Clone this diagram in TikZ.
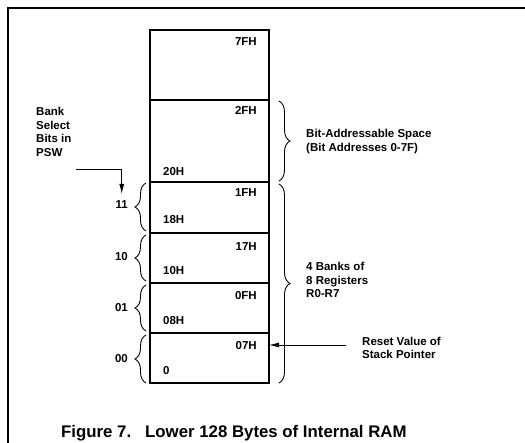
\documentclass[tikz,border=0pt]{standalone}
\usepackage{fontspec}
\setmainfont{Liberation Sans}
\usetikzlibrary{arrows.meta,decorations.pathreplacing}
\begin{document}
\begin{tikzpicture}[x=1pt,y=-1pt,
  cell/.style={draw,line width=1.8pt,minimum width=119pt,inner sep=0pt,outer sep=0pt},
  lbl/.style={font=\bfseries\fontsize{11.5}{13.5}\selectfont,inner sep=0pt,align=left},
  rbrace/.style={decorate,decoration={brace,amplitude=11pt},line width=0.9pt},
  arr/.style={line width=0.8pt,-{Latex[length=10pt,width=5pt]}}]
\useasboundingbox (0,0) rectangle (525,443);
% frame
\draw[line width=1.8pt] (8,443) -- (8,8) -- (525,8);
% cells
\node[cell,minimum height=70pt] (c7) at (209.5,65) {};
\node[cell,minimum height=82pt] (c2) at (209.5,141) {};
\node[cell,minimum height=51pt] (c1) at (209.5,207.5) {};
\node[cell,minimum height=50pt] (cb10) at (209.5,258) {};
\node[cell,minimum height=50pt] (cb01) at (209.5,308) {};
\node[cell,minimum height=50pt] (c0) at (209.5,358) {};
% cell labels
\node[lbl,anchor=east] (t7fh) at (257,42) {7FH};
\node[lbl,anchor=east] (t2fh) at (257,110) {2FH};
\node[lbl,anchor=west] (t20h) at (163,172) {20H};
\node[lbl,anchor=east] (t1fh) at (257,193) {1FH};
\node[lbl,anchor=west] (t18h) at (163,220) {18H};
\node[lbl,anchor=east] (t17h) at (257,247) {17H};
\node[lbl,anchor=west] (t10h) at (163,271) {10H};
\node[lbl,anchor=east] (t0fh) at (257,296) {0FH};
\node[lbl,anchor=west] (t08h) at (163,321) {08H};
\node[lbl,anchor=east] (t07h) at (257,346) {07H};
\node[lbl,anchor=west] (t0) at (163,371) {0};
% right braces
\draw[rbrace] (279,101) -- (279,181);
\draw[rbrace] (279,184) -- (279,383);
\node[lbl,anchor=west] (bas) at (306,141.5) {Bit-Addressable Space\\(Bit Addresses 0-7F)};
\node[lbl,anchor=west] (banks) at (306,280) {4 Banks of\\8 Registers\\R0-R7};
% left braces
\draw[rbrace] (146,231) -- (146,183);
\draw[rbrace] (146,281) -- (146,235);
\draw[rbrace] (146,331) -- (146,285);
\draw[rbrace] (146,383) -- (146,335);
\node[lbl,anchor=east] (b11) at (128,205) {11};
\node[lbl,anchor=east] (b10) at (128,257) {10};
\node[lbl,anchor=east] (b01) at (128,308) {01};
\node[lbl,anchor=east] (b00) at (128,359) {00};
% bank select
\node[lbl,anchor=west] (psw) at (36,132) {Bank\\Select\\Bits in\\PSW};
\coordinate (pswstart) at (76,169);
\draw[arr,shorten >=7pt] (pswstart) -| (b11.north);
% reset value
\node[lbl,anchor=west] (reset) at (362,348) {Reset Value of\\Stack Pointer};
\coordinate (rs) at (346,345);
\draw[arr] (rs) -- (c0.east |- rs);
% caption
\node[font=\bfseries\fontsize{16.8}{19}\selectfont,inner sep=0pt,anchor=west] (cap) at (61,433) {Figure 7.\ \ \ Lower 128 Bytes of Internal RAM};
\end{tikzpicture}
\end{document}
